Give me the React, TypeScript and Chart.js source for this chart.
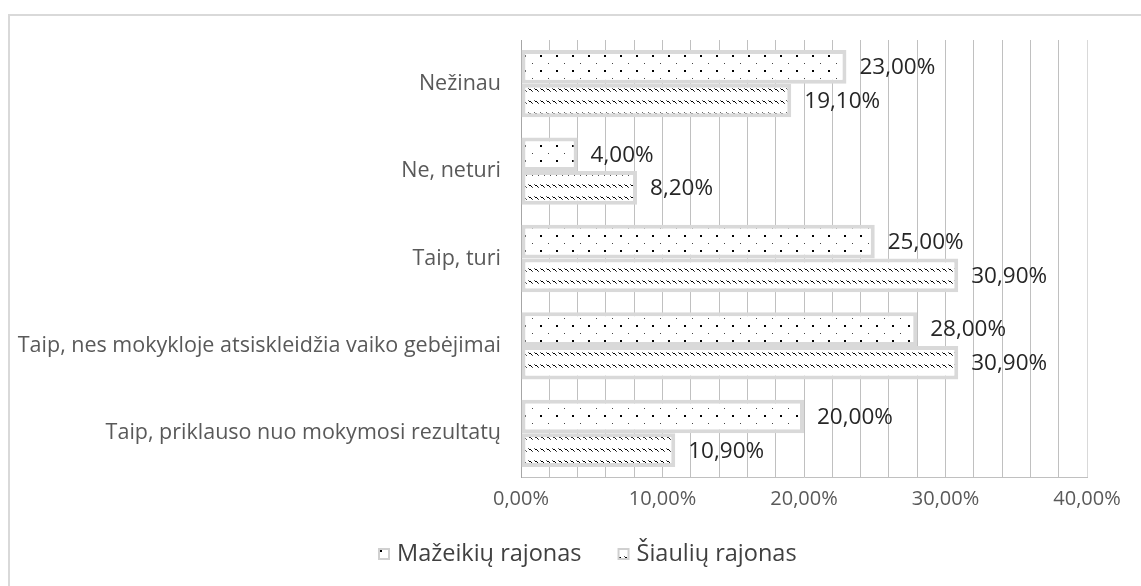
import React, { useEffect, useRef } from "react";
import { Chart, registerables } from "chart.js";

Chart.register(...registerables);

const categories = [
  "Nežinau",
  "Ne, neturi",
  "Taip, turi",
  "Taip, nes mokykloje atsiskleidžia vaiko gebėjimai",
  "Taip, priklauso nuo mokymosi rezultatų",
];
const seriesNames = ["Mažeikių rajonas", "Šiaulių rajonas"];
const mazeikiuValues = [23.0, 4.0, 25.0, 28.0, 20.0];
const siauliuValues = [19.1, 8.2, 30.9, 30.9, 10.9];
const xMin = 0;
const xMax = 40;
const xMinorStep = 2;
const xLabelEvery = 10;

const FONT = "'Open Sans', 'DejaVu Sans', sans-serif";

const fmt = (v: number) => v.toFixed(2).replace(".", ",") + "%";

function makeDotPattern(ctx: CanvasRenderingContext2D) {
  const c = document.createElement("canvas");
  c.width = 16;
  c.height = 15;
  const g = c.getContext("2d")!;
  g.fillStyle = "#ffffff";
  g.fillRect(0, 0, 16, 15);
  g.fillStyle = "#444444";
  g.fillRect(4, 3, 1, 1);
  g.fillStyle = "#000000";
  g.fillRect(12, 10, 2, 2);
  return ctx.createPattern(c, "repeat")!;
}

function makeWavePattern(ctx: CanvasRenderingContext2D) {
  const c = document.createElement("canvas");
  c.width = 6;
  c.height = 12;
  const g = c.getContext("2d")!;
  g.fillStyle = "#ffffff";
  g.fillRect(0, 0, 6, 12);
  g.fillStyle = "#666666";
  g.fillRect(0, 4, 1, 1);
  g.fillStyle = "#000000";
  g.fillRect(1, 5, 1, 1);
  g.fillRect(2, 5, 1, 1);
  g.fillRect(3, 6, 1, 1);
  g.fillStyle = "#555555";
  g.fillRect(4, 7, 1, 1);
  return ctx.createPattern(c, "repeat")!;
}

const dataLabelPlugin = {
  id: "dataLabels",
  afterDatasetsDraw(chart: any) {
    const ctx = chart.ctx;
    ctx.save();
    ctx.font = `22.5px ${FONT}`;
    ctx.fillStyle = "#262626";
    ctx.textAlign = "left";
    ctx.textBaseline = "middle";
    chart.data.datasets.forEach((ds: any, i: number) => {
      const meta = chart.getDatasetMeta(i);
      meta.data.forEach((el: any, j: number) => {
        ctx.fillText(fmt(ds.data[j]), el.x + 13, el.y + 1);
      });
    });
    ctx.restore();
  },
};

const customLegendPlugin = {
  id: "customLegend",
  afterDraw(chart: any) {
    const ctx = chart.ctx;
    ctx.save();
    ctx.font = `23.5px ${FONT}`;
    ctx.textBaseline = "middle";
    const box = 12;
    const gapText = 7;
    const gapItem = 36;
    const widths = seriesNames.map((n) => ctx.measureText(n).width);
    const total =
      widths.reduce((a: number, w: number) => a + box + gapText + w, 0) + gapItem * (seriesNames.length - 1);
    let x = Math.round(587 - total / 2);
    const y = 554;
    chart.data.datasets.forEach((ds: any, i: number) => {
      ctx.fillStyle = ds.backgroundColor;
      ctx.fillRect(x, y - box / 2, box, box);
      ctx.strokeStyle = "#d0d0d0";
      ctx.lineWidth = 2;
      ctx.strokeRect(x + 1, y - box / 2 + 1, box - 2, box - 2);
      x += box + gapText;
      ctx.fillStyle = "#404040";
      ctx.fillText(seriesNames[i], x, y);
      x += widths[i] + gapItem;
    });
    ctx.restore();
  },
};

export default function App() {
  const ref = useRef<HTMLCanvasElement>(null);
  useEffect(() => {
    document.body.style.margin = "0";
    const canvas = ref.current!;
    const ctx = canvas.getContext("2d")!;
    const dots = makeDotPattern(ctx);
    const waves = makeWavePattern(ctx);
    const nTicks = (xMax - xMin) / xMinorStep;
    const chart = new Chart(canvas, {
      type: "bar",
      data: {
        labels: categories,
        datasets: [
          {
            label: seriesNames[0],
            data: mazeikiuValues,
            backgroundColor: dots as any,
            borderColor: "#d9d9d9",
            borderWidth: 4,
            borderSkipped: false,
          },
          {
            label: seriesNames[1],
            data: siauliuValues,
            backgroundColor: waves as any,
            borderColor: "#d9d9d9",
            borderWidth: 4,
            borderSkipped: false,
          },
        ],
      },
      options: {
        indexAxis: "y",
        animation: false,
        responsive: false,
        devicePixelRatio: 1,
        layout: { padding: { left: 0, top: 40, right: 54, bottom: 69 } },
        datasets: { bar: { categoryPercentage: 0.77, barPercentage: 1 } },
        plugins: {
          legend: { display: false },
          tooltip: { enabled: false },
        },
        scales: {
          x: {
            min: xMin,
            max: xMax,
            afterFit: (s: any) => {
              s.height = 40;
            },
            ticks: {
              stepSize: xMinorStep,
              autoSkip: false,
              maxRotation: 0,
              padding: 10,
              color: "#595959",
              font: { family: FONT, size: 20 },
              callback: (v: any) => (Number(v) % xLabelEvery === 0 ? fmt(Number(v)) : ""),
            },
            grid: {
              drawTicks: false,
              color: (c: any) => (c.index === nTicks ? "#d9d9d9" : "#c0c0c0"),
              lineWidth: 1,
            },
            border: { display: true, color: "#c0c0c0" },
          },
          y: {
            afterFit: (s: any) => {
              s.width = 521;
            },
            ticks: {
              padding: 20,
              color: "#595959",
              font: { family: FONT, size: 21.5 },
            },
            grid: { display: false, drawTicks: false },
            border: { display: true, color: "#a6a6a6" },
          },
        },
      },
      plugins: [dataLabelPlugin, customLegendPlugin],
    });
    return () => chart.destroy();
  }, []);
  return (
    <div style={{ position: "relative", width: 1141, height: 586, overflow: "hidden", background: "#fff" }}>
      <div
        style={{
          position: "absolute",
          left: 8,
          top: 14,
          width: 1300,
          height: 800,
          border: "2px solid #d9d9d9",
          boxSizing: "border-box",
        }}
      />
      <canvas ref={ref} width={1141} height={586} style={{ position: "absolute", left: 0, top: 0 }} />
    </div>
  );
}
